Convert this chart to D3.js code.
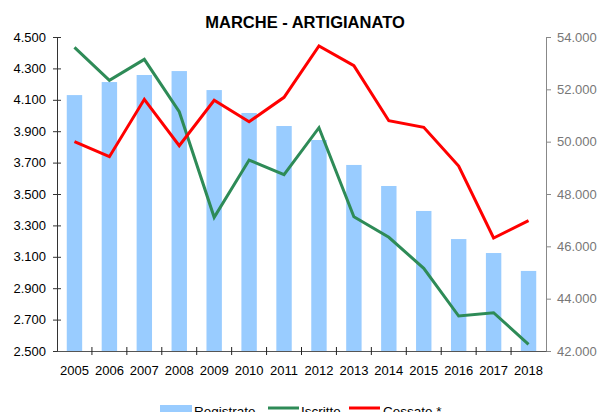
<html>
<head>
<meta charset="utf-8">
<script src="https://d3js.org/d3.v7.min.js"></script>
<style>
body {
	margin:0;
	background:#fff;
	font-family: Arial, "Liberation Sans", sans-serif;
}
</style>
</head>
<body>
<div id="chart"></div>
<script>

var years = ["2005","2006","2007","2008","2009","2010","2011","2012","2013","2014","2015","2016","2017","2018"];
var registrate = [4130, 4213, 4258, 4283, 4162, 4016, 3933, 3844, 3685, 3551, 3392, 3213, 3124, 3010];
var iscritte = [53605, 52344, 53146, 51144, 47108, 49298, 48737, 50533, 47132, 46345, 45160, 43337, 43464, 42256];
var cessate = [49998, 49425, 51618, 49845, 51580, 50762, 51694, 53655, 52902, 50800, 50548, 49069, 46318, 46979];
var leftTicks = [2500, 2700, 2900, 3100, 3300, 3500, 3700, 3900, 4100, 4300, 4500];
var rightTicks = [42000, 44000, 46000, 48000, 50000, 52000, 54000];

let W = 601, H = 412;
let margin = {top: 37, right: 55, bottom: 61, left: 57};
let width = W - margin.left - margin.right,
    height = H - margin.top - margin.bottom;

let fmt = function(d) { return d3.format(",.3f")(d / 1000); };

let svg = d3.select("#chart").append("svg")
	.attr("width", W)
	.attr("height", H);

let g = svg.append("g")
	.attr("transform", "translate(" + margin.left + "," + margin.top + ")");

let x = d3.scaleBand().domain(years).range([0, width]).paddingInner(0.56).paddingOuter(0.28),
	xc = d3.scaleBand().domain(years).range([0, width]),
	y = d3.scaleLinear().domain([2500, 4500]).range([height, 0]),
	y2 = d3.scaleLinear().domain([42000, 54000]).range([height, 0]);

// bars
g.selectAll(".bar")
	.data(years)
	.enter()
	.append("rect")
	.attr("class", "bar")
	.attr("fill", "#99ccff")
	.attr("x", function(d) { return xc(d) + xc.bandwidth()/2 - 7.7; })
	.attr("width", 15.4)
	.attr("y", function(d, i) { return y(registrate[i]); })
	.attr("height", function(d, i) { return height - y(registrate[i]); });

// lines
let line = d3.line()
	.x(function(d, i) { return xc(years[i]) + xc.bandwidth()/2; })
	.y(function(d) { return y2(d); });

g.append("path")
	.datum(iscritte)
	.attr("fill", "none")
	.attr("stroke", "#2e8b57")
	.attr("stroke-width", 3)
	.attr("stroke-linejoin", "miter")
	.attr("d", line);

g.append("path")
	.datum(cessate)
	.attr("fill", "none")
	.attr("stroke", "#ff0000")
	.attr("stroke-width", 3)
	.attr("d", line);

// left axis
let yAxis = g.append("g")
	.call(d3.axisLeft(y).tickValues(leftTicks).tickFormat(fmt).tickSizeOuter(0).tickSize(4).tickPadding(7));
yAxis.selectAll(".tick line").attr("x2", -4).attr("x1", 4).attr("stroke", "#333");
yAxis.select(".domain").attr("stroke", "#333");
yAxis.selectAll("text")
	.attr("font-family", "Arial, 'Liberation Sans', sans-serif")
	.attr("font-size", 13)
	.attr("fill", "#000");

// right axis
let yAxis2 = g.append("g")
	.attr("transform", "translate(" + width + ",0)")
	.call(d3.axisRight(y2).tickValues(rightTicks).tickFormat(fmt).tickSizeOuter(0).tickSize(5).tickPadding(6));
yAxis2.selectAll(".tick line").attr("stroke", "#888");
yAxis2.select(".domain").attr("stroke", "#888");
yAxis2.selectAll("text")
	.attr("font-family", "Arial, 'Liberation Sans', sans-serif")
	.attr("font-size", 13)
	.attr("fill", "#777");

// x axis
let xAxis = g.append("g")
	.attr("transform", "translate(0," + height + ")")
	.call(d3.axisBottom(xc).tickSize(0).tickPadding(15));
xAxis.select(".domain").attr("stroke", "#555");
xAxis.selectAll("text")
	.attr("font-family", "Arial, 'Liberation Sans', sans-serif")
	.attr("font-size", 13)
	.attr("fill", "#000");
// category separators
xAxis.selectAll(".sep")
	.data(years.slice(1))
	.enter()
	.append("line")
	.attr("class", "sep")
	.attr("stroke", "#222")
	.attr("x1", function(d) { return xc(d); })
	.attr("x2", function(d) { return xc(d); })
	.attr("y1", -4)
	.attr("y2", 4);

// title
svg.append("text")
	.attr("x", 305)
	.attr("y", 28)
	.attr("text-anchor", "middle")
	.attr("font-family", "Arial, 'Liberation Sans', sans-serif")
	.attr("font-weight", "bold")
	.attr("font-size", 16.5)
	.attr("fill", "#000")
	.text("MARCHE - ARTIGIANATO");

// legend
let leg = svg.append("g").attr("font-family", "Arial, 'Liberation Sans', sans-serif").attr("font-size", 13.5);
leg.append("rect").attr("x", 160).attr("y", 405).attr("width", 32).attr("height", 10).attr("fill", "#99ccff");
leg.append("text").attr("x", 194).attr("y", 416).text("Registrate");
leg.append("line").attr("x1", 268).attr("x2", 299).attr("y1", 408).attr("y2", 408).attr("stroke", "#2e8b57").attr("stroke-width", 3);
leg.append("text").attr("x", 301).attr("y", 416).text("Iscritte");
leg.append("line").attr("x1", 349).attr("x2", 380).attr("y1", 408).attr("y2", 408).attr("stroke", "#ff0000").attr("stroke-width", 3);
leg.append("text").attr("x", 383).attr("y", 416).text("Cessate *");

</script>
</body>
</html>
